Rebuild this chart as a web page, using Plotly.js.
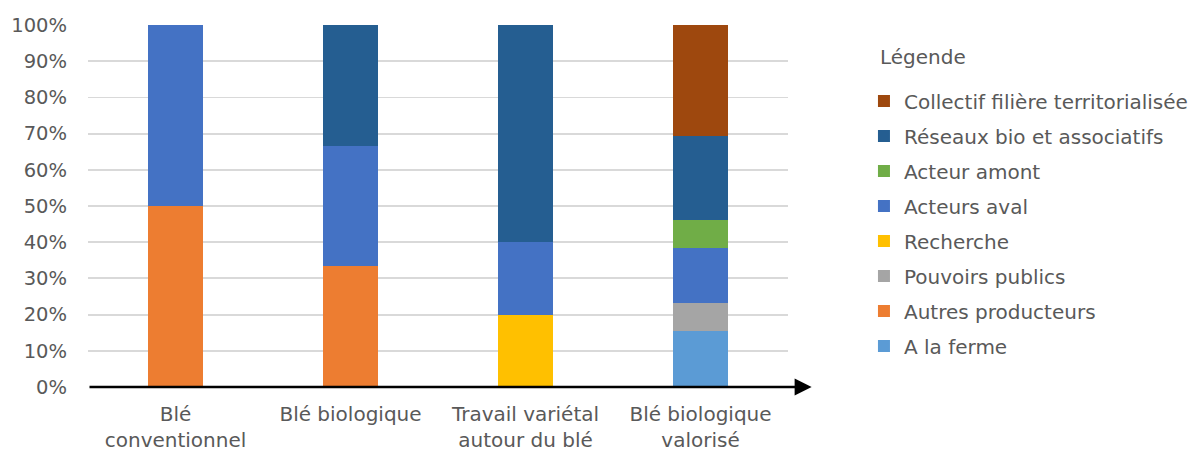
<!DOCTYPE html>
<html><head><meta charset="utf-8">
<script src="https://cdn.plot.ly/plotly-3.0.1.min.js"></script>
<style>html,body{margin:0;padding:0;background:#fff}#c{width:1192px;height:459px}</style>
</head><body><div id="c"></div>
<script>
const categories = ["Blé<br>conventionnel", "Blé biologique", "Travail variétal<br>autour du blé", "Blé biologique<br>valorisé"];
const seriesNames = ["A la ferme", "Autres producteurs", "Pouvoirs publics", "Recherche", "Acteurs aval", "Acteur amont", "Réseaux bio et associatifs", "Collectif filière territorialisée"];
const aLaFerme = [0, 0, 0, 0.1538];
const autresProducteurs = [0.5, 0.3333, 0, 0];
const pouvoirsPublics = [0, 0, 0, 0.0769];
const recherche = [0, 0, 0.2, 0];
const acteursAval = [0.5, 0.3333, 0.2, 0.1538];
const acteurAmont = [0, 0, 0, 0.0769];
const reseauxBio = [0, 0.3334, 0.6, 0.2308];
const collectif = [0, 0, 0, 0.3078];
const tickVals = [0, 0.1, 0.2, 0.3, 0.4, 0.5, 0.6, 0.7, 0.8, 0.9, 1.0];
const tickText = ["0%", "10%", "20%", "30%", "40%", "50%", "60%", "70%", "80%", "90%", "100%"];
const legendTitle = "Légende";

const values = [aLaFerme, autresProducteurs, pouvoirsPublics, recherche, acteursAval, acteurAmont, reseauxBio, collectif];
const colors = ["#5B9BD5", "#ED7D31", "#A5A5A5", "#FFC000", "#4472C4", "#70AD47", "#255E91", "#9E480E"];
const font = "DejaVu Sans, Verdana, sans-serif";
const txt = "#595959";

const traces = seriesNames.map((n, i) => ({
  type: "bar", name: n, x: categories, y: values[i],
  marker: {color: colors[i], line: {width: 0}},
  legendgroup: "g" + i, legendrank: seriesNames.length - i, hoverinfo: "skip"
}));

const layout = {
  width: 1192, height: 459,
  margin: {l: 88, r: 404, t: 25, b: 72},
  barmode: "stack", bargap: 0.69,
  paper_bgcolor: "#fff", plot_bgcolor: "#fff",
  font: {family: font, size: 20, color: txt},
  xaxis: {
    type: "category", range: [-0.5, 3.5], showline: false, ticks: "",
    showgrid: false, zeroline: false, ticklabelstandoff: 13,
    tickfont: {family: font, size: 20, color: txt}
  },
  yaxis: {
    range: [0, 1], tickvals: tickVals, ticktext: tickText,
    showgrid: true, gridcolor: "#D9D9D9", gridwidth: 1.8, zeroline: false,
    showline: false, ticks: "", ticklabelstandoff: 20,
    tickfont: {family: font, size: 19.5, color: txt}
  },
  showlegend: true,
  legend: {
    xref: "container", yref: "container", x: 0.7248, y: 0.8223, xanchor: "left", yanchor: "top",
    traceorder: "grouped", tracegroupgap: 6, itemwidth: 30, maxheight: 420,
    font: {family: font, size: 20, color: txt},
    bgcolor: "rgba(0,0,0,0)"
  },
  annotations: [
    {
      x: 3.635, y: 0, xref: "x", yref: "y", ax: -0.5, ay: 0, axref: "x", ayref: "y",
      showarrow: true, arrowhead: 2, arrowsize: 1.36, arrowwidth: 2.5, arrowcolor: "#000", text: ""
    },
    {
      text: legendTitle, xref: "paper", yref: "paper", x: 1.1286, y: 0.9116,
      xanchor: "left", yanchor: "middle", showarrow: false,
      font: {family: font, size: 20, color: txt}
    }
  ]
};

Plotly.newPlot("c", traces, layout, {displayModeBar: false, staticPlot: true});
</script></body></html>
